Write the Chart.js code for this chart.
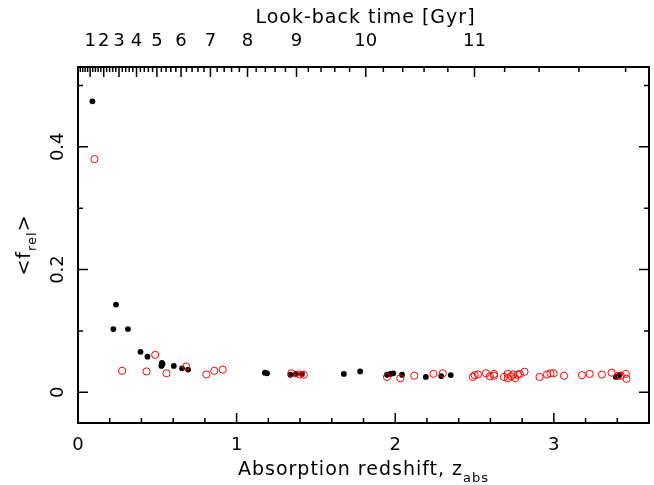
<!DOCTYPE html>
<html>
<head>
<meta charset="utf-8">
<script src="https://cdn.jsdelivr.net/npm/chart.js@4.4.1/dist/chart.umd.min.js"></script>
<style>
  body { margin: 0; background: #fff; }
</style>
</head>
<body>
<canvas id="chart" width="654" height="485"></canvas>
<script>
// filled black points
const zBlack = [0.091, 0.240, 0.223, 0.315, 0.394, 0.438, 0.529, 0.526, 0.533, 0.604, 0.656, 0.694,
  1.178, 1.192, 1.339, 1.374, 1.412, 1.676, 1.779, 1.948, 1.969, 1.988, 2.043, 2.193, 2.290, 2.350,
  3.391, 3.412];
const fBlack = [0.474, 0.143, 0.103, 0.103, 0.066, 0.058, 0.048, 0.043, 0.046, 0.043, 0.039, 0.037,
  0.032, 0.031, 0.0286, 0.030, 0.030, 0.030, 0.034, 0.0286, 0.030, 0.031, 0.0286, 0.025, 0.0265, 0.028,
  0.025, 0.028];

// open red circles
const zRed = [0.104, 0.278, 0.432, 0.487, 0.558, 0.682, 0.809, 0.859, 0.912, 1.345, 1.396, 1.423,
  1.948, 2.032, 2.120, 2.241, 2.300, 2.489, 2.501, 2.522, 2.572, 2.597, 2.623, 2.623, 2.686, 2.709,
  2.710, 2.731, 2.744, 2.756, 2.773, 2.786, 2.815, 2.910, 2.957, 2.979, 2.999, 3.064, 3.177, 3.226,
  3.303, 3.364, 3.406, 3.422, 3.454, 3.458];
const fRed = [0.380, 0.035, 0.034, 0.061, 0.031, 0.042, 0.029, 0.035, 0.037, 0.031, 0.029, 0.0286,
  0.025, 0.023, 0.027, 0.030, 0.031, 0.025, 0.028, 0.029, 0.031, 0.026, 0.030, 0.027, 0.025, 0.030,
  0.023, 0.026, 0.029, 0.023, 0.0286, 0.030, 0.0335, 0.025, 0.029, 0.031, 0.031, 0.027, 0.028, 0.030,
  0.029, 0.032, 0.027, 0.027, 0.030, 0.022];

// axes
const zTicks = [0, 0.2, 0.4, 0.6, 0.8, 1, 1.2, 1.4, 1.6, 1.8, 2, 2.2, 2.4, 2.6, 2.8, 3, 3.2, 3.4];
const zLabels = [0, 1, 2, 3];
const fTicks = [0, 0.1, 0.2, 0.3, 0.4, 0.5];
const fLabels = [0, 0.2, 0.4];
const gyrLabels = [1, 2, 3, 4, 5, 6, 7, 8, 9, 10, 11];
const gyrMinor = [];
for (let i = 0; i <= 59; i++) gyrMinor.push(Math.round(i * 2) / 10);

// flat LCDM, H0=71, Om=0.27 -> redshift for a given look-back time
const H0 = 71, Om = 0.27, OL = 0.73;
const tH = 977.8 / H0;
const A = 2 / (3 * Math.sqrt(OL)) * tH;
const B = Math.sqrt(OL / Om);
const t0 = A * Math.asinh(B);
function zFromLookback(tl) {
  return Math.pow(Math.sinh((t0 - tl) / A) / B, -2 / 3) - 1;
}

const tickFont = { family: 'DejaVu Sans', size: 18 };

// inner tick marks, frame and axis titles
const frame = {
  id: 'frame',
  afterDraw(chart) {
    const { ctx, chartArea: a, scales } = chart;
    ctx.save();
    ctx.strokeStyle = '#000';
    ctx.lineWidth = 1.5;
    ctx.beginPath();
    scales.x.ticks.forEach(t => {
      const px = scales.x.getPixelForValue(t.value);
      const len = t.label !== '' ? 10 : 5;
      ctx.moveTo(px, a.bottom); ctx.lineTo(px, a.bottom - len);
    });
    scales.x2.ticks.forEach(t => {
      const px = scales.x2.getPixelForValue(t.value);
      const len = t.label !== '' ? 10 : 5;
      ctx.moveTo(px, a.top); ctx.lineTo(px, a.top + len);
    });
    scales.y.ticks.forEach(t => {
      const py = scales.y.getPixelForValue(t.value);
      const len = t.label !== '' ? 10 : 5;
      ctx.moveTo(a.left, py); ctx.lineTo(a.left + len, py);
      ctx.moveTo(a.right, py); ctx.lineTo(a.right - len, py);
    });
    ctx.stroke();
    ctx.lineWidth = 2;
    ctx.strokeRect(a.left, a.top, a.right - a.left, a.bottom - a.top);

    ctx.fillStyle = '#000';
    ctx.letterSpacing = '1px';
    ctx.textBaseline = 'alphabetic';
    ctx.textAlign = 'left';
    const cx = (a.left + a.right) / 2;

    // top title
    ctx.font = '19px "DejaVu Sans"';
    let w = ctx.measureText('Look-back time [Gyr]').width;
    ctx.fillText('Look-back time [Gyr]', cx - w / 2 + 2, 23);

    // bottom title with subscript
    const main = 'Absorption redshift, z';
    ctx.font = '19px "DejaVu Sans"';
    const wm = ctx.measureText(main).width;
    ctx.font = '13px "DejaVu Sans"';
    const ws = ctx.measureText('abs').width;
    let x0 = cx - (wm + ws) / 2;
    ctx.font = '19px "DejaVu Sans"';
    ctx.fillText(main, x0, 475);
    ctx.font = '13px "DejaVu Sans"';
    ctx.fillText('abs', x0 + wm, 482);

    // left title, rotated, with subscript
    const cy = (a.top + a.bottom) / 2;
    ctx.translate(30, cy);
    ctx.rotate(-Math.PI / 2);
    ctx.font = '19px "DejaVu Sans"';
    const w1 = ctx.measureText('<f').width;
    const w3 = ctx.measureText('>').width;
    ctx.font = '13px "DejaVu Sans"';
    const w2 = ctx.measureText('rel').width;
    x0 = -(w1 + w2 + w3) / 2;
    ctx.font = '19px "DejaVu Sans"';
    ctx.fillText('<f', x0, 0);
    ctx.fillText('>', x0 + w1 + w2, 0);
    ctx.font = '13px "DejaVu Sans"';
    ctx.fillText('rel', x0 + w1, 6);
    ctx.restore();
  }
};

new Chart(document.getElementById('chart'), {
  type: 'scatter',
  data: {
    datasets: [
      {
        label: 'open',
        data: zRed.map((z, i) => ({ x: z, y: fRed[i] })),
        order: 0,
        pointRadius: 3.6,
        pointBackgroundColor: 'rgba(0,0,0,0)',
        pointBorderColor: '#ff0000',
        pointBorderWidth: 1
      },
      {
        label: 'filled',
        data: zBlack.map((z, i) => ({ x: z, y: fBlack[i] })),
        order: 1,
        pointRadius: 2.9,
        pointBackgroundColor: '#000',
        pointBorderWidth: 0
      }
    ]
  },
  options: {
    responsive: false,
    animation: false,
    layout: { padding: { right: 2, left: 0, top: 0, bottom: 0 } },
    plugins: { legend: { display: false }, tooltip: { enabled: false } },
    scales: {
      x: {
        type: 'linear', position: 'bottom', min: 0, max: 3.6,
        grid: { display: false, drawTicks: false }, border: { display: false },
        afterBuildTicks: s => { s.ticks = zTicks.map(v => ({ value: v })); },
        afterFit: s => { s.height = 62; },
        ticks: {
          autoSkip: false, maxRotation: 0, minRotation: 0, padding: 12,
          color: '#000', font: tickFont,
          callback: v => zLabels.includes(v) ? String(v) : ''
        }
      },
      x2: {
        type: 'linear', position: 'top', min: 0, max: 3.6,
        grid: { display: false, drawTicks: false }, border: { display: false },
        afterBuildTicks: s => {
          s.ticks = gyrMinor.map(g => ({ value: zFromLookback(g), gyr: g }));
        },
        afterFit: s => { s.height = 67; },
        ticks: {
          autoSkip: false, maxRotation: 0, minRotation: 0, padding: 15,
          color: '#000', font: tickFont,
          callback: (v, i, ticks) => gyrLabels.includes(ticks[i].gyr) ? String(ticks[i].gyr) : ''
        }
      },
      y: {
        type: 'linear', position: 'left', min: -0.05, max: 0.53,
        grid: { display: false, drawTicks: false }, border: { display: false },
        afterBuildTicks: s => { s.ticks = fTicks.map(v => ({ value: v })); },
        afterFit: s => { s.width = 78; },
        ticks: {
          autoSkip: false, minRotation: 90, maxRotation: 90, crossAlign: 'center', padding: 5,
          color: '#000', font: tickFont,
          callback: v => fLabels.includes(v) ? String(v) : ''
        }
      }
    }
  },
  plugins: [frame]
});
</script>
</body>
</html>
